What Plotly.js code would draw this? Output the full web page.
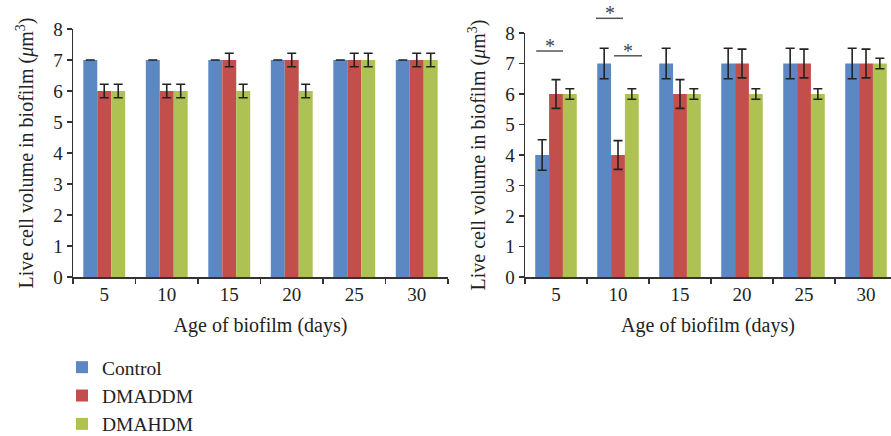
<!DOCTYPE html>
<html>
<head>
<meta charset="utf-8">
<script src="https://cdn.plot.ly/plotly-3.0.1.min.js"></script>
<style>html,body{margin:0;padding:0;background:#fff;}#chart{width:891px;height:436px;}</style>
</head>
<body>
<div id="chart"></div>
<script>
// ---- data ----
const days = ['5', '10', '15', '20', '25', '30'];
const seriesNames = ['Control', 'DMADDM', 'DMAHDM'];

// left panel
const leftControl = [7, 7, 7, 7, 7, 7];
const leftControlErr = [0, 0, 0, 0, 0, 0];
const leftDMADDM = [6, 6, 7, 7, 7, 7];
const leftDMADDMErr = [0.22, 0.22, 0.22, 0.22, 0.22, 0.22];
const leftDMAHDM = [6, 6, 6, 6, 7, 7];
const leftDMAHDMErr = [0.22, 0.22, 0.22, 0.22, 0.22, 0.22];

// right panel
const rightControl = [4, 7, 7, 7, 7, 7];
const rightControlErr = [0.5, 0.5, 0.5, 0.5, 0.5, 0.5];
const rightDMADDM = [6, 4, 6, 7, 7, 7];
const rightDMADDMErr = [0.47, 0.47, 0.47, 0.47, 0.47, 0.47];
const rightDMAHDM = [6, 6, 6, 6, 6, 7];
const rightDMAHDMErr = [0.17, 0.17, 0.17, 0.17, 0.17, 0.17];

// significance markers (right panel): category, start/end offset within category, height (paper)
const sigCategory = [0, 1, 1];
const sigStart = [-0.32, -0.355, -0.065];
const sigEnd = [0.113, 0.081, 0.387];
const sigLevel = [0.883, 0.958, 0.872];
const sigLabel = ['*', '*', '*'];

const colors = ['#5b87c3', '#c24f4c', '#aec253'];
const FONT = 'Liberation Serif, Times New Roman, serif';

function mkTrace(y, err, i, xa, ya, showlegend) {
  return {
    type: 'bar', x: days, y: y, name: seriesNames[i],
    xaxis: xa, yaxis: ya, showlegend: showlegend, legendgroup: seriesNames[i],
    marker: {color: colors[i], line: {width: 0}},
    error_y: {type: 'data', array: err, visible: true, color: '#222', thickness: 1.6, width: 4.5},
    hoverinfo: 'x+y'
  };
}

const data = [
  mkTrace(leftControl, leftControlErr, 0, 'x', 'y', true),
  mkTrace(leftDMADDM, leftDMADDMErr, 1, 'x', 'y', true),
  mkTrace(leftDMAHDM, leftDMAHDMErr, 2, 'x', 'y', true),
  mkTrace(rightControl, rightControlErr, 0, 'x2', 'y2', false),
  mkTrace(rightDMADDM, rightDMADDMErr, 1, 'x2', 'y2', false),
  mkTrace(rightDMAHDM, rightDMAHDMErr, 2, 'x2', 'y2', false)
];

const W = 891, H = 436;
const yTitle = 'Live cell volume in biofilm (<i>μ</i>m<sup>3</sup>)';
const axisCommon = {
  showgrid: false, zeroline: false, showline: true, linecolor: '#333', linewidth: 1.5,
  ticks: 'outside', ticklen: 5, tickwidth: 1.3, tickcolor: '#333', automargin: false,
  tickfont: {family: FONT, size: 19, color: '#222'}
};
const xCommon = Object.assign({}, axisCommon, {
  type: 'category', tickson: 'boundaries',
  title: {text: 'Age of biofilm (days)', font: {family: FONT, size: 20, color: '#222'}, standoff: 13}
});
const yCommon = Object.assign({}, axisCommon, {
  range: [0, 8], dtick: 1, tick0: 0,
  title: {text: yTitle, font: {family: FONT, size: 20, color: '#222'}, standoff: 14}
});

const shapes = [];
const annotations = [];
for (let k = 0; k < sigCategory.length; k++) {
  shapes.push({
    type: 'line', xref: 'x2', yref: 'paper',
    x0: sigCategory[k] + sigStart[k], x1: sigCategory[k] + sigEnd[k],
    y0: sigLevel[k], y1: sigLevel[k],
    line: {color: '#555', width: 1.5}
  });
  annotations.push({
    xref: 'x2', yref: 'paper', x: sigCategory[k] + (sigStart[k] + sigEnd[k]) / 2,
    y: Math.min(1, sigLevel[k] + 18 / H), yanchor: 'top', xanchor: 'center', showarrow: false,
    text: sigLabel[k], font: {family: FONT, size: 20, color: '#444'}
  });
}

const layout = {
  width: W, height: H,
  margin: {l: 0, r: 0, t: 0, b: 0, autoexpand: false},
  paper_bgcolor: '#fff', plot_bgcolor: '#fff',
  barmode: 'group', bargap: 0.33, bargroupgap: 0,
  xaxis: Object.assign({}, xCommon, {domain: [73 / W, 448 / W], anchor: 'y', range: [-0.5, 5.5]}),
  yaxis: Object.assign({}, yCommon, {domain: [1 - 277 / H, 1 - 29 / H], anchor: 'x'}),
  xaxis2: Object.assign({}, xCommon, {domain: [525 / W, 1], anchor: 'y2', range: [-0.5, 5.403]}),
  yaxis2: Object.assign({}, yCommon, {domain: [1 - 277 / H, 1 - 33 / H], anchor: 'x2'}),
  showlegend: true,
  legend: {
    x: 62 / W, y: 1 - 348 / H, xanchor: 'left', yanchor: 'top',
    orientation: 'v', bgcolor: 'rgba(0,0,0,0)',
    font: {family: FONT, size: 19.5, color: '#222'}, traceorder: 'normal'
  },
  shapes: shapes,
  annotations: annotations
};

Plotly.newPlot('chart', data, layout, {displayModeBar: false, staticPlot: true});
</script>
</body>
</html>
